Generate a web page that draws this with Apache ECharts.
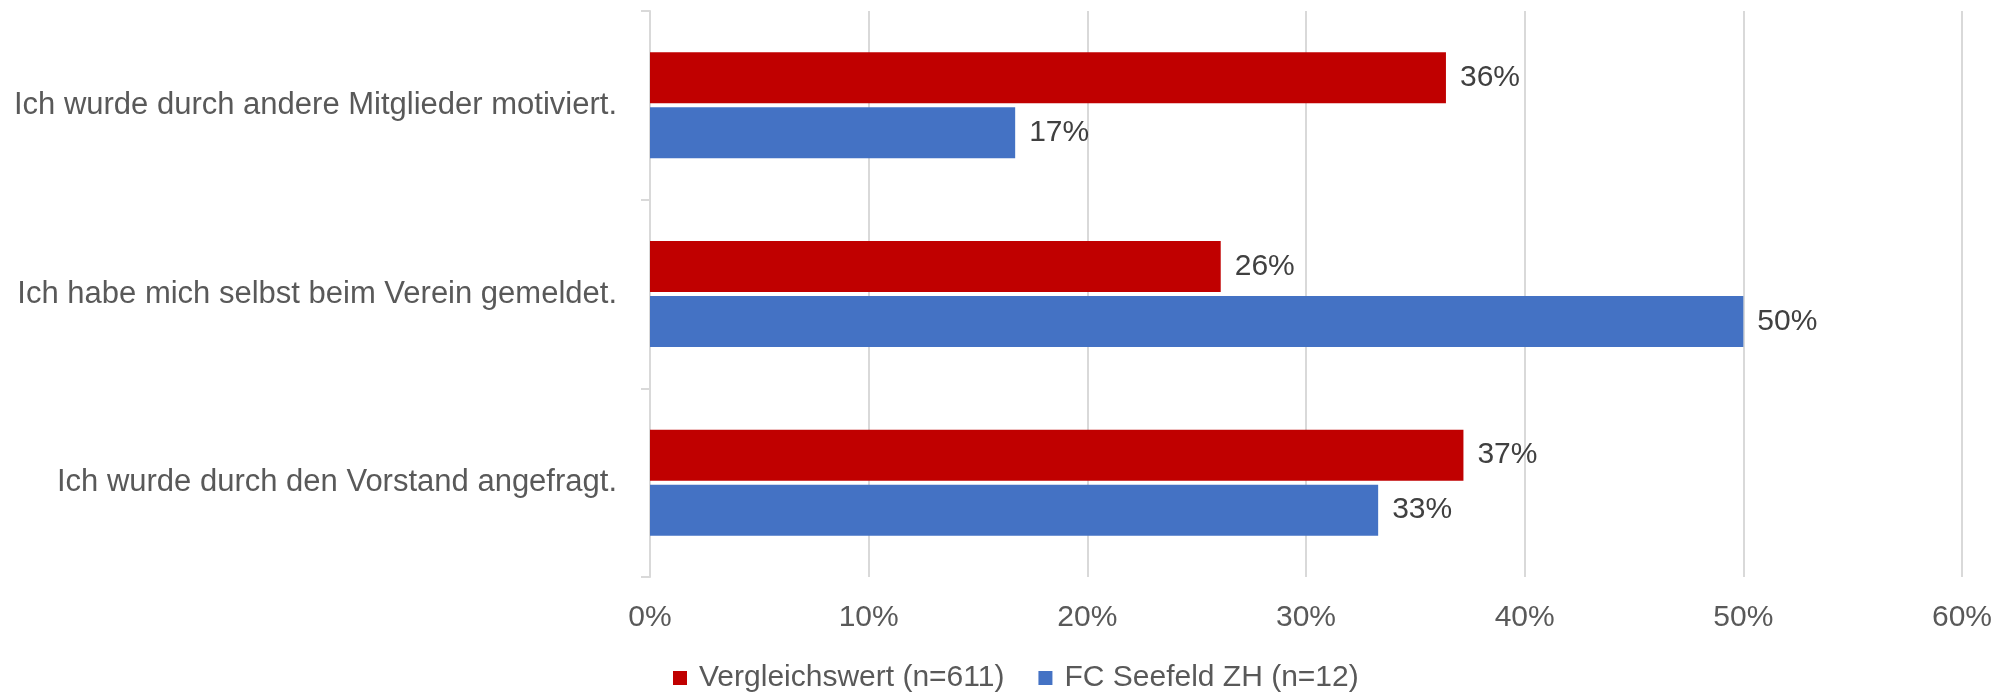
<!DOCTYPE html>
<html>
<head>
<meta charset="utf-8">
<script src="https://cdn.jsdelivr.net/npm/echarts@6/dist/echarts.min.js"></script>
<style>
html,body{margin:0;padding:0;background:#fff;}
#chart{width:2011px;height:697px;}
</style>
</head>
<body>
<div id="chart"></div>
<script>
const categories = [
  "Ich wurde durch andere Mitglieder motiviert.",
  "Ich habe mich selbst beim Verein gemeldet.",
  "Ich wurde durch den Vorstand angefragt."
];
const seriesNames = ["Vergleichswert (n=611)", "FC Seefeld ZH (n=12)"];
const vergleichswert = [36.4, 26.1, 37.2];
const fcSeefeld = [16.7, 50.0, 33.3];
const xTicks = [0, 10, 20, 30, 40, 50, 60];

const FONT = '"Liberation Sans", Arial, sans-serif';
const chart = echarts.init(document.getElementById('chart'), null, {renderer: 'canvas'});

const labelCfg = {
  show: true,
  position: 'right',
  distance: 14,
  color: '#404040',
  fontFamily: FONT,
  fontSize: 30,
  formatter: p => Math.round(p.value) + '%'
};

chart.setOption({
  animation: false,
  textStyle: {fontFamily: FONT},
  grid: {left: 650, right: 49, top: 11, bottom: 120, containLabel: false},
  legend: {
    data: seriesNames,
    left: 668,
    top: 657,
    icon: 'rect',
    itemWidth: 14,
    itemHeight: 14,
    itemGap: 34,
    textStyle: {color: '#595959', fontSize: 30, fontFamily: FONT, padding: [0, 0, 0, 7], lineHeight: 32}
  },
  xAxis: {
    type: 'value',
    min: xTicks[0],
    max: xTicks[xTicks.length - 1],
    interval: 10,
    axisLine: {show: false},
    axisTick: {show: false},
    splitLine: {show: true, lineStyle: {color: '#d9d9d9', width: 2}},
    axisLabel: {
      color: '#595959', fontSize: 30, fontFamily: FONT, margin: 26,
      formatter: v => v + '%'
    }
  },
  yAxis: {
    type: 'category',
    data: categories,
    inverse: true,
    axisLine: {show: true, lineStyle: {color: '#d9d9d9', width: 2}},
    axisTick: {show: true, length: 9, lineStyle: {color: '#d9d9d9', width: 2}},
    axisLabel: {color: '#595959', fontSize: 31, fontFamily: FONT, margin: 33}
  },
  series: [
    {
      name: seriesNames[0],
      type: 'bar',
      data: vergleichswert,
      barWidth: 51,
      barGap: '8%',
      itemStyle: {color: '#C00000'},
      label: labelCfg
    },
    {
      name: seriesNames[1],
      type: 'bar',
      data: fcSeefeld,
      barWidth: 51,
      barGap: '8%',
      itemStyle: {color: '#4472C4'},
      label: labelCfg
    }
  ]
});
</script>
</body>
</html>
